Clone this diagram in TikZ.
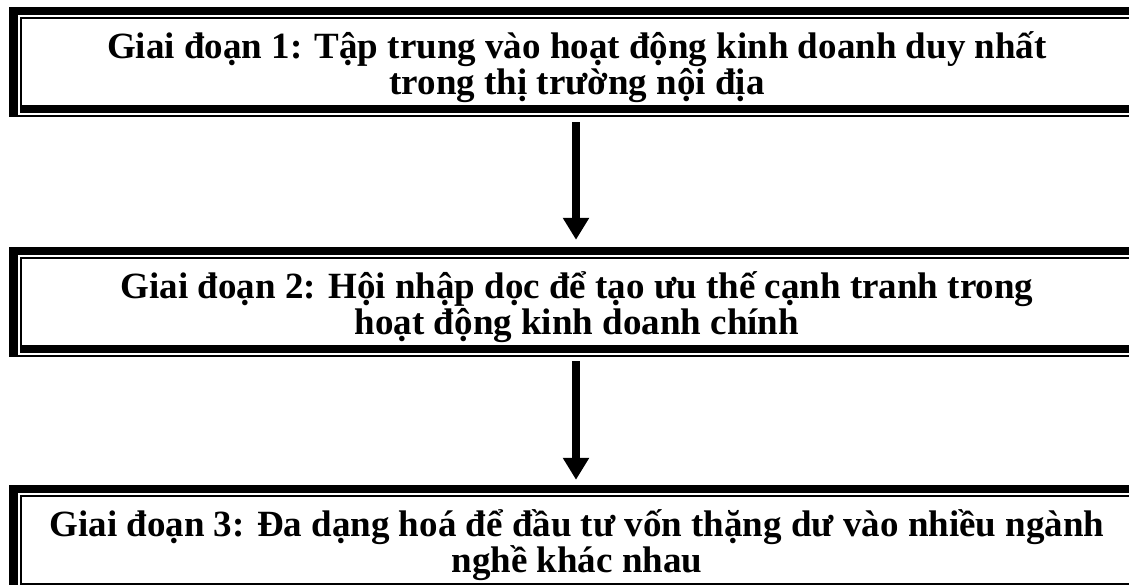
\documentclass[tikz,border=0pt]{standalone}
\usepackage{fontspec}
\setmainfont{Liberation Serif}
\usetikzlibrary{arrows.meta,positioning,calc}
\tikzset{stage/.style={
         minimum width=1136pt,minimum height=120pt,inner sep=0pt,align=center,
         font=\bfseries\fontsize{37}{31}\selectfont}}
\tikzset{flow/.style={
         line width=8pt,-{Triangle[width=25pt,length=22pt]}}}
% khung vien day-mong quanh mot giai doan (cao 110pt, lo ra ben phai)
\newcommand{\stageframe}[1]{%
  \coordinate (nw) at (#1.north west);
  \coordinate (se) at ($(#1.north east)+(24,-110)$);
  \fill (nw) rectangle ($(nw -| se)+(0,-8)$);
  \fill (nw) rectangle ($(nw |- se)+(9,0)$);
  \fill ($(nw)+(11,-10)$) rectangle ($(nw -| se)+(-11,-12)$);
  \fill ($(nw)+(11,-10)$) rectangle ($(nw |- se)+(13,4)$);
  \fill ($(nw |- se)+(11,4)$) rectangle ($(se)+(-11,12)$);
  \fill ($(nw -| se)+(-11,-10)$) rectangle ($(se)+(-20,4)$);
  \fill ($(nw |- se)+(9,0)$) rectangle ($(se)+(0,2)$);
  \fill (nw -| se) rectangle ($(se)+(-2,0)$);}

\begin{document}
\begin{tikzpicture}[x=1pt,y=1pt]
\useasboundingbox (0,0) rectangle (1129,-585);
\clip (0,0) rectangle (1129,-585);

% ba giai doan
\node[stage] (s1) at (577,-67) {Giai đoạn 1: Tập trung vào hoạt động kinh doanh duy nhất\\trong thị trường nội địa};
\node[stage] (s2) at (577,-307) {Giai đoạn 2: Hội nhập dọc để tạo ưu thế cạnh tranh trong\\hoạt động kinh doanh chính};
\node[stage] (s3) at (577,-545) {Giai đoạn 3: Đa dạng hoá để đầu tư vốn thặng dư vào nhiều ngành\\nghề khác nhau};
\foreach \s in {s1,s2,s3} {\stageframe{\s}}

% mui ten
\draw[flow] ([xshift=-1pt,yshift=5pt]s1.south) -- ([xshift=-1pt,yshift=7pt]s2.north);
\draw[flow] ([xshift=-1pt,yshift=6pt]s2.south) -- ([xshift=-1pt,yshift=5pt]s3.north);
\end{tikzpicture}
\end{document}
